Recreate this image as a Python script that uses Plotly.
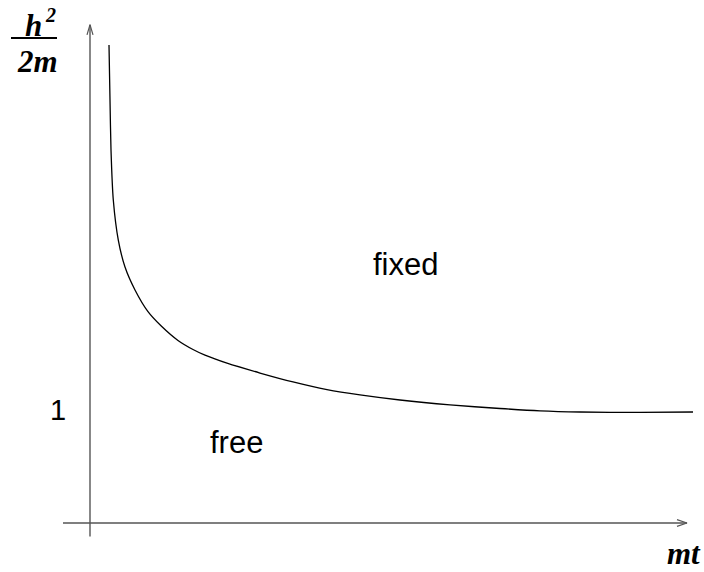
import plotly.graph_objects as go

# Boundary curve between "fixed" and "free" phases (x: mt, y: h^2/2m)
mt_values = [0.19, 0.20, 0.21, 0.233, 0.283, 0.35, 0.45, 0.58, 0.71, 0.88, 1.03, 1.15,
             1.37, 1.70, 2.03, 2.37, 2.70, 3.10, 3.60, 4.10, 4.50, 4.90, 5.50, 6.03]
h2_values = [4.23, 3.743, 3.301, 2.858, 2.504, 2.265, 2.062, 1.87, 1.745, 1.615, 1.535, 1.485,
             1.414, 1.327, 1.248, 1.180, 1.133, 1.088, 1.045, 1.013, 0.992, 0.982, 0.978, 0.982]

region_labels = ["fixed", "free"]
tick_label = "1"

W, H = 704, 572

def px(x):
    return x / W

def py(y):
    return 1 - y / H

x_min, x_max = -0.90, 6.14
y_min, y_max = -0.434, 4.628
x_axis_end, y_axis_end = 5.97, 4.41

fig = go.Figure()

fig.add_trace(go.Scatter(x=mt_values, y=h2_values, mode="lines",
                         line=dict(color="black", width=1.3, shape="spline", smoothing=0.7),
                         hoverinfo="skip"))

axis_color = "#555555"
fig.add_shape(type="line", x0=-0.27, x1=x_axis_end, y0=0, y1=0,
              line=dict(color=axis_color, width=1.4))
fig.add_shape(type="line", x0=0, x1=0, y0=-0.12, y1=y_axis_end,
              line=dict(color=axis_color, width=1.4))
fig.add_trace(go.Scatter(x=[x_axis_end - 0.10, x_axis_end, x_axis_end - 0.10],
                         y=[0.03, 0, -0.03], mode="lines",
                         line=dict(color=axis_color, width=1.2), hoverinfo="skip"))
fig.add_trace(go.Scatter(x=[-0.03, 0, 0.03],
                         y=[y_axis_end - 0.09, y_axis_end, y_axis_end - 0.09], mode="lines",
                         line=dict(color=axis_color, width=1.2), hoverinfo="skip"))

sans = dict(family="Liberation Sans, Arial, sans-serif", size=31, color="black")
serif = dict(family="Liberation Serif, Times New Roman, serif", size=31, color="black")

fig.add_annotation(x=3.15, y=2.283, text=region_labels[0], showarrow=False, font=sans,
                   xanchor="center", yanchor="middle")
fig.add_annotation(x=1.46, y=0.708, text=region_labels[1], showarrow=False, font=sans,
                   xanchor="center", yanchor="middle")
fig.add_annotation(x=-0.32, y=1.0, text=tick_label, showarrow=False,
                   font=dict(family=sans["family"], size=29, color="black"),
                   xanchor="center", yanchor="middle")

fig.add_annotation(xref="paper", yref="paper", x=px(33), y=py(26),
                   text="<b><i>h</i></b>", showarrow=False, font=serif,
                   xanchor="center", yanchor="middle")
fig.add_annotation(xref="paper", yref="paper", x=px(50), y=py(15),
                   text="<b><i>2</i></b>", showarrow=False,
                   font=dict(family=serif["family"], size=20, color="black"),
                   xanchor="center", yanchor="middle")
fig.add_shape(type="line", xref="paper", yref="paper", x0=px(11), x1=px(57),
              y0=py(38), y1=py(38), line=dict(color="black", width=2))
fig.add_annotation(xref="paper", yref="paper", x=px(37), y=py(61),
                   text="<b><i>2m</i></b>", showarrow=False, font=serif,
                   xanchor="center", yanchor="middle")
fig.add_annotation(xref="paper", yref="paper", x=px(684), y=py(553),
                   text="<b><i>mt</i></b>", showarrow=False, font=serif,
                   xanchor="center", yanchor="middle")

fig.update_layout(
    width=W, height=H,
    margin=dict(l=0, r=0, t=0, b=0),
    paper_bgcolor="white", plot_bgcolor="white",
    showlegend=False,
    xaxis=dict(range=[x_min, x_max], visible=False, fixedrange=True),
    yaxis=dict(range=[y_min, y_max], visible=False, fixedrange=True),
)

fig.write_html("out.html", config={"displayModeBar": False},
               post_script="document.body.style.margin='0';document.body.style.overflow='hidden';")
